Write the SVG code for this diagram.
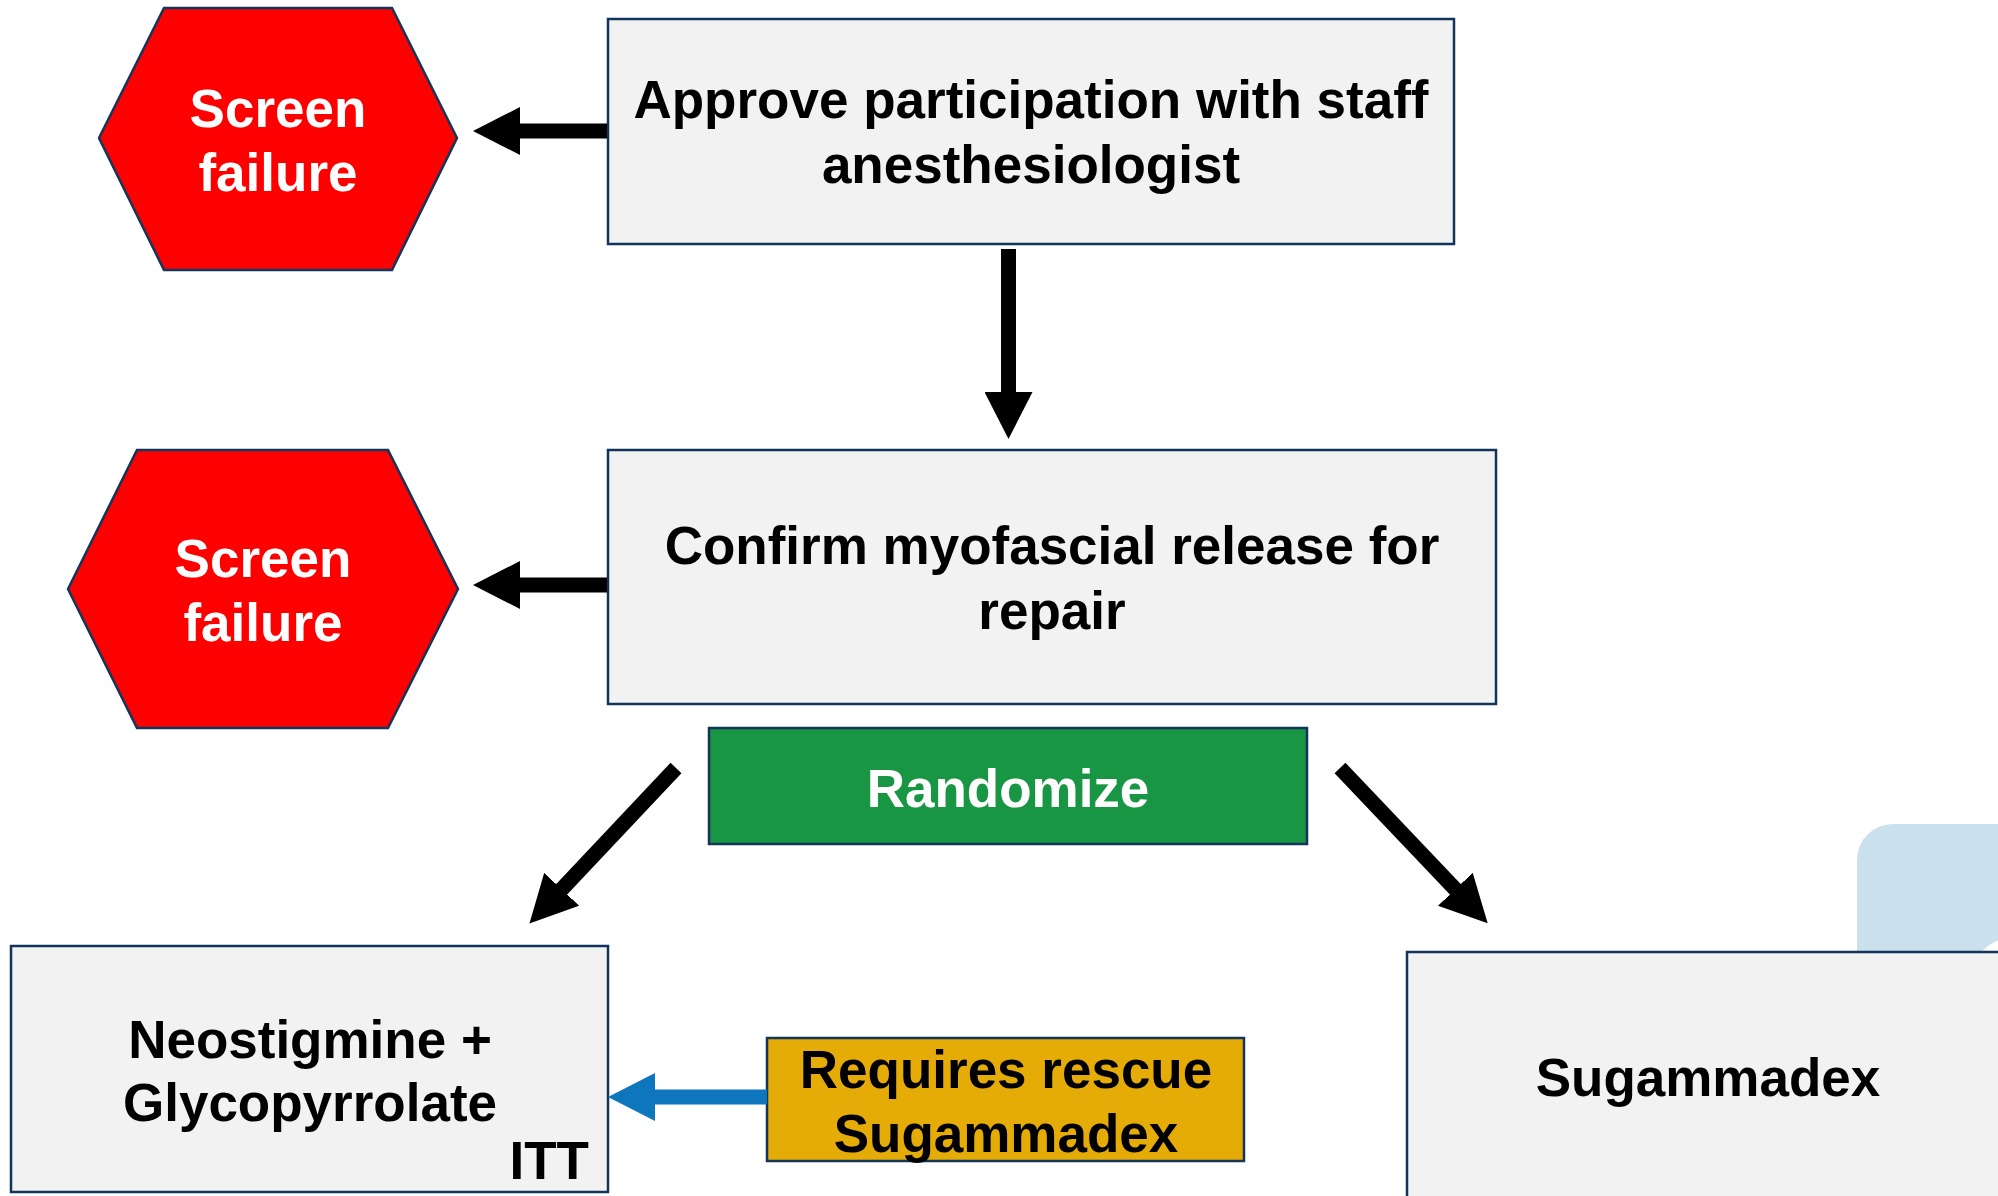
<svg xmlns="http://www.w3.org/2000/svg" width="1998" height="1196" viewBox="0 0 1998 1196">
<style>
text{font-family:"Liberation Sans",Arial,sans-serif;font-weight:bold;font-size:53px;text-anchor:middle}
.box{fill:#F2F2F2;stroke:#12355B;stroke-width:2.5}
.hex{fill:#FF0000;stroke:#12355B;stroke-width:2.5}
.w{fill:#FFFFFF}
.k{fill:#000000}
.shaft{stroke:#000;stroke-width:15;fill:none}
.blue{stroke:#0E76BD;stroke-width:15;fill:none}
</style>
<defs>
<marker id="ah" markerUnits="userSpaceOnUse" markerWidth="47" markerHeight="48" viewBox="0 0 47 48" refX="1" refY="24" orient="auto"><path d="M0,0 L47,24 L0,48 z" fill="#000"/></marker>
<marker id="ahb" markerUnits="userSpaceOnUse" markerWidth="47" markerHeight="48" viewBox="0 0 47 48" refX="1" refY="24" orient="auto"><path d="M0,0 L47,24 L0,48 z" fill="#0E76BD"/></marker>
</defs>
<rect width="1998" height="1196" fill="#FFFFFF"/>
<g id="decor">
<rect x="1857" y="824" width="200" height="200" rx="36" fill="#CAE0EC"/>
<circle cx="2015" cy="982" r="45" fill="#FFFFFF"/>
</g>
<g id="screen-failure-1">
<polygon class="hex" points="99,138 164,8 392,8 457,138 392,270 164,270"/>
<text class="w" x="278" y="127">Screen</text>
<text class="w" x="278" y="191">failure</text>
</g>
<g id="approve">
<rect class="box" x="608" y="19" width="846" height="225"/>
<text class="k" x="1031" y="118">Approve participation with staff</text>
<text class="k" x="1031" y="183">anesthesiologist</text>
</g>
<g id="screen-failure-2">
<polygon class="hex" points="68,589 137,450 388,450 458,589 388,728 137,728"/>
<text class="w" x="263" y="577">Screen</text>
<text class="w" x="263" y="641">failure</text>
</g>
<g id="confirm">
<rect class="box" x="608" y="450" width="888" height="254"/>
<text class="k" x="1052" y="564">Confirm myofascial release for</text>
<text class="k" x="1052" y="629">repair</text>
</g>
<g id="randomize">
<rect x="709" y="728" width="598" height="116" fill="#189643" stroke="#12355B" stroke-width="2.5"/>
<text class="w" x="1008" y="807">Randomize</text>
</g>
<g id="neostigmine">
<rect class="box" x="11" y="946" width="597" height="246"/>
<text class="k" x="310" y="1058">Neostigmine +</text>
<text class="k" x="310" y="1121">Glycopyrrolate</text>
<text class="k" x="589" y="1179" style="text-anchor:end">ITT</text>
</g>
<g id="rescue">
<rect x="767" y="1038" width="477" height="123" fill="#E5AB07" stroke="#12355B" stroke-width="2.5"/>
<text class="k" x="1006" y="1088">Requires rescue</text>
<text class="k" x="1006" y="1152">Sugammadex</text>
</g>
<g id="sugammadex">
<rect class="box" x="1407" y="952" width="610" height="280"/>
<text class="k" x="1708" y="1096">Sugammadex</text>
</g>
<g id="connectors">
<line class="shaft" x1="607" y1="131" x2="519" y2="131" marker-end="url(#ah)"/>
<line class="shaft" x1="1008.5" y1="249" x2="1008.5" y2="393" marker-end="url(#ah)"/>
<line class="shaft" x1="607" y1="585" x2="519" y2="585" marker-end="url(#ah)"/>
<line class="shaft" x1="676" y1="768" x2="561" y2="890" marker-end="url(#ah)"/>
<line class="shaft" x1="1340" y1="768" x2="1456" y2="890" marker-end="url(#ah)"/>
<line class="blue" x1="767" y1="1097" x2="654" y2="1097" marker-end="url(#ahb)"/>
</g>
</svg>
